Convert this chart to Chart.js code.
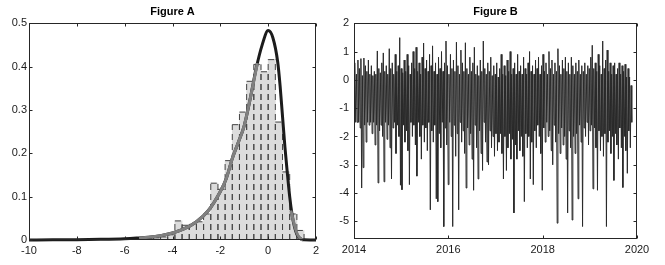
<!DOCTYPE html>
<html><head><meta charset="utf-8">
<script src="https://cdn.jsdelivr.net/npm/chart.js@4.4.1/dist/chart.umd.min.js"></script>
<style>
html,body{margin:0;padding:0;background:#fff;width:665px;height:265px;overflow:hidden}
#ca{position:absolute;left:0;top:0}
#cb{position:absolute;left:330px;top:0}
</style></head><body>
<canvas id="ca" width="330" height="265"></canvas>
<canvas id="cb" width="335" height="265"></canvas>
<script>
// ---------- Figure A data ----------
const binCenters = [-5.25,-4.95,-4.65,-4.35,-4.05,-3.75,-3.45,-3.15,-2.85,-2.55,-2.25,-1.95,-1.65,-1.35,-1.05,-0.75,-0.45,-0.15,0.15,0.45,0.75,1.05,1.35];
const binHeights = [0.002,0.004,0.005,0.007,0.012,0.044,0.034,0.036,0.042,0.06,0.131,0.117,0.183,0.266,0.295,0.366,0.405,0.388,0.416,0.272,0.157,0.06,0.022];
const fitX = [-10,-9,-8,-7,-6,-5.5,-5,-4.5,-4,-3.5,-3,-2.5,-2,-1.75,-1.5,-1.25,-1,-0.75,-0.5,-0.25,0,0.2,0.4,0.5,0.6,0.7,0.8,0.9,1.0,1.1,1.2,1.3,1.4,1.5,1.75,2];
const fitY = [0,0.0003,0.0007,0.0015,0.003,0.0045,0.0065,0.01,0.016,0.026,0.042,0.068,0.112,0.142,0.188,0.225,0.264,0.326,0.396,0.45,0.483,0.466,0.41,0.355,0.285,0.215,0.155,0.1,0.058,0.03,0.013,0.005,0.0015,0.0003,0,0];
const kdeX = [-5.4,-5,-4.5,-4,-3.5,-3,-2.5,-2,-1.75,-1.5,-1.25,-1,-0.75,-0.45,0.25,0.95,1.05,1.15,1.25,1.35,1.45];
const kdeY = [0.005,0.0065,0.01,0.016,0.026,0.042,0.068,0.112,0.142,0.188,0.225,0.264,0.326,0.408,null,0.068,0.045,0.024,0.01,0.003,0];
const xTicksA = [-10,2,2];   // min, max, step
const yTicksA = [0,0.5,0.1];

// ---------- Figure B data ----------
const yearStart = 2014.02, yearEnd = 2019.89;
const highs = [
0.6,0.2,0.7,0.4,0.75,0.15,0.77,0.5,0.3,0.7,
0.2,0.5,0.15,0.3,0.2,1.02,0.4,0.25,0.6,0.95,
0.3,0.5,0.2,1.1,0.4,0.6,0.2,0.9,0.3,0.5,
1.49,0.4,0.25,0.7,0.3,0.9,0.5,0.2,0.6,1.0,
0.4,1.15,0.3,0.6,0.2,0.8,1.3,0.4,0.7,0.3,
0.9,0.5,1.2,0.3,0.6,0.2,0.8,0.4,1.0,0.3,
0.6,1.37,0.5,0.2,0.9,0.4,0.7,0.3,1.33,0.5,
0.2,1.05,0.6,0.3,1.31,0.4,0.2,0.8,0.3,0.6,
1.15,0.2,0.5,0.15,0.7,0.3,1.37,0.4,0.2,0.6,
0.3,0.8,0.15,0.5,0.2,0.6,0.1,0.4,0.9,0.2,
0.5,0.15,0.7,0.3,1.0,0.2,0.4,0.6,0.2,0.9,
0.3,0.5,0.2,0.8,0.4,0.2,0.6,1.0,0.3,0.5,
0.2,0.7,0.4,0.8,0.2,0.5,0.9,0.3,0.6,0.2,
1.0,0.4,0.7,0.2,0.6,0.3,1.1,0.5,0.2,0.7,
0.4,0.8,0.3,0.6,0.2,0.8,0.5,0.2,0.6,0.3,
0.7,0.2,0.5,0.3,0.6,0.2,0.5,0.4,0.8,1.22,
0.4,0.6,0.3,0.9,0.5,0.2,1.37,0.4,0.7,1.05,
0.3,0.6,0.2,0.5,0.6,0.2,0.4,0.6,0.2,0.5,
0.3,0.55,0.1,0.4,0.1,-0.2];
const lows = [
-1.5,-1.5,-1.5,-1.7,-3.82,-3.1,-1.6,-2.2,-1.5,-1.6,
-1.5,-1.9,-1.5,-2.3,-1.6,-3.64,-1.8,-1.6,-2.0,-3.6,
-1.5,-2.1,-1.6,-2.4,-3.5,-1.7,-1.5,-2.6,-1.6,-2.0,
-3.72,-3.88,-1.6,-2.2,-1.8,-2.5,-3.7,-1.5,-2.0,-1.6,
-2.3,-3.4,-1.5,-2.0,-2.8,-1.6,-2.2,-1.7,-2.5,-1.5,
-4.59,-1.8,-2.2,-1.6,-4.2,-4.3,-1.9,-2.4,-1.5,-5.18,
-1.7,-2.3,-3.7,-1.5,-2.0,-5.18,-1.6,-2.7,-1.9,-4.59,
-1.5,-2.2,-1.8,-2.6,-3.82,-1.7,-2.3,-1.9,-2.8,-3.9,
-1.6,-2.4,-3.5,-1.8,-2.6,-3.2,-1.5,-2.2,-2.9,-3.0,
-1.8,-2.4,-2.0,-2.7,-1.9,-2.5,-2.2,-1.9,-2.6,-3.5,
-2.0,-3.2,-2.4,-1.9,-2.8,-2.1,-4.7,-2.3,-2.8,-1.8,
-2.5,-2.0,-2.7,-4.3,-1.9,-2.4,-2.0,-3.5,-2.2,-3.7,
-1.8,-2.4,-1.6,-2.0,-2.6,-3.9,-1.7,-2.2,-1.5,-2.0,
-1.8,-2.5,-3.0,-1.6,-2.2,-5.06,-1.9,-2.6,-1.7,-2.3,
-2.0,-2.8,-4.7,-1.8,-2.4,-4.95,-2.0,-2.6,-1.9,-4.2,
-1.6,-2.2,-5.18,-1.7,-2.0,-1.5,-2.3,-1.8,-1.6,-3.85,
-1.7,-2.4,-3.9,-1.8,-2.5,-2.0,-2.7,-1.9,-5.18,-2.2,
-1.8,-2.6,-2.0,-3.55,-1.9,-2.3,-2.8,-1.7,-2.4,-3.8,
-2.0,-2.5,-3.3,-1.8,-2.4,-1.5];
const xTicksB = [2014,2020,2];
const yTicksB = [-5.62,2,1];

// ---------- helpers ----------
const FONT = 'Liberation Sans, Arial, Helvetica, sans-serif';
const TXT = '#1a1a1a';
const AX = '#262626';

const framePlugin = {
  id: 'frame',
  afterDraw(chart) {
    const {ctx, chartArea: a, scales} = chart;
    ctx.save();
    ctx.strokeStyle = AX; ctx.lineWidth = 1;
    const L = Math.round(a.left) + 0.5, R = Math.round(a.right) - 0.5;
    const T = Math.round(a.top) + 0.5, B = Math.round(a.bottom) - 0.5;
    ctx.strokeRect(L, T, R - L, B - T);
    const tl = 3;
    ctx.beginPath();
    scales.x.ticks.forEach(t => {
      const p = Math.round(scales.x.getPixelForValue(t.value)) + 0.5;
      ctx.moveTo(p, B); ctx.lineTo(p, B - tl);
      ctx.moveTo(p, T); ctx.lineTo(p, T + tl);
    });
    scales.y.ticks.forEach(t => {
      const p = Math.round(scales.y.getPixelForValue(t.value)) + 0.5;
      ctx.moveTo(L, p); ctx.lineTo(L + tl, p);
      ctx.moveTo(R, p); ctx.lineTo(R - tl, p);
    });
    ctx.stroke();
    ctx.restore();
  }
};

const dashedBars = {
  id: 'dashedBars',
  afterDatasetDraw(chart, args) {
    if (args.meta.type !== 'bar') return;
    const ctx = chart.ctx;
    ctx.save();
    ctx.beginPath();
    const a = chart.chartArea;
    ctx.rect(a.left, a.top, a.right - a.left, a.bottom - a.top);
    ctx.clip();
    ctx.strokeStyle = '#444444';
    ctx.lineWidth = 1;
    ctx.setLineDash([6, 4]);
    args.meta.data.forEach(el => {
      const p = el.getProps(['x', 'y', 'base', 'width'], true);
      const l = p.x - p.width / 2, r = p.x + p.width / 2;
      ctx.beginPath();
      ctx.moveTo(l, p.base); ctx.lineTo(l, p.y);
      ctx.moveTo(r, p.base); ctx.lineTo(r, p.y);
      ctx.moveTo(l, p.y); ctx.lineTo(r, p.y);
      ctx.stroke();
    });
    ctx.restore();
  }
};

function axisOpts(range, fit, extraTicks) {
  return Object.assign({
    type: 'linear', min: range[0], max: range[1],
    grid: {display: false, drawTicks: false},
    border: {display: false},
    afterFit: fit,
  }, {ticks: Object.assign({stepSize: range[2], color: TXT, font: {family: FONT, size: 11}, maxRotation: 0, autoSkip: false}, extraTicks)});
}

function titleOpts(text) {
  return {display: true, text, color: '#000', fullSize: false,
    font: {family: FONT, size: 11, weight: 'bold'}, padding: {top: 5, bottom: 5}};
}

// ---------- Figure A ----------
new Chart(document.getElementById('ca'), {
  type: 'bar',
  data: {
    datasets: [
      {type: 'bar', order: 3, data: binCenters.map((c, i) => ({x: c, y: binHeights[i]})),
       backgroundColor: '#dcdcdc', borderWidth: 0, barPercentage: 1, categoryPercentage: 1},
      {type: 'line', order: 2, data: fitX.map((x, i) => ({x, y: fitY[i]})),
       borderColor: '#1c1c1c', borderWidth: 3, pointRadius: 0, cubicInterpolationMode: 'monotone', clip: false},
      {type: 'line', order: 1, data: kdeX.map((x, i) => ({x, y: kdeY[i]})),
       borderColor: '#808080', borderWidth: 3, pointRadius: 0, cubicInterpolationMode: 'monotone', spanGaps: false, clip: false}
    ]
  },
  options: {
    responsive: false, animation: false, devicePixelRatio: 1,
    layout: {padding: {left: 0, right: 14, top: 0, bottom: 0}},
    plugins: {legend: {display: false}, tooltip: {enabled: false}, title: titleOpts('Figure A')},
    scales: {
      x: Object.assign(axisOpts(xTicksA, s => { s.height = 25; }, {padding: 4}), {offset: false}),
      y: axisOpts(yTicksA, s => { s.width = 29; }, {padding: 2})
    }
  },
  plugins: [dashedBars, framePlugin]
});

// ---------- Figure B ----------
const series = [];
highs.forEach((h, i) => { series.push(h, lows[i]); });
const stepB = (yearEnd - yearStart) / (series.length - 1);
new Chart(document.getElementById('cb'), {
  type: 'line',
  data: {
    datasets: [{
      data: series.map((v, i) => ({x: yearStart + i * stepB, y: v})),
      borderColor: '#2a2a2a', borderWidth: 1, pointRadius: 0, tension: 0
    }]
  },
  options: {
    responsive: false, animation: false, devicePixelRatio: 1,
    layout: {padding: {left: 0, right: 28, top: 0, bottom: 0}},
    plugins: {legend: {display: false}, tooltip: {enabled: false}, title: titleOpts('Figure B')},
    scales: {
      x: axisOpts(xTicksB, s => { s.height = 26; }, {padding: 4, callback: v => String(v)}),
      y: axisOpts(yTicksB, s => { s.width = 24; }, {padding: 5, includeBounds: false})
    }
  },
  plugins: [framePlugin]
});
</script>
</body></html>
